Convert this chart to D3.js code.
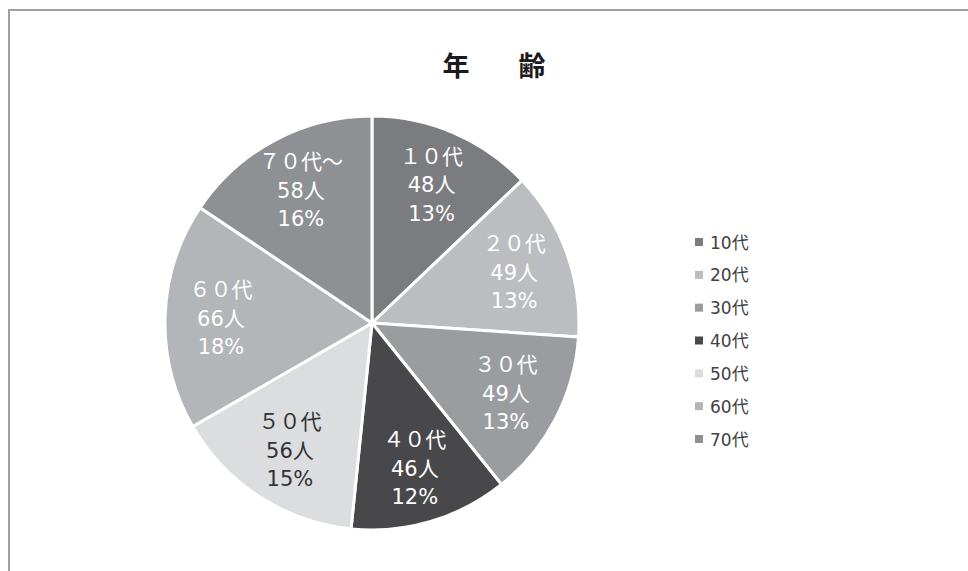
<!DOCTYPE html>
<html>
<head>
<meta charset="utf-8">
<script src="https://cdn.jsdelivr.net/npm/d3@7"></script>
<style>
  html, body { margin: 0; padding: 0; background: #fff; }
  svg { display: block; }
</style>
</head>
<body>
<svg id="chart" width="968" height="571"></svg>
<script>
const title = "年　齢";
const categories = ["10代", "20代", "30代", "40代", "50代", "60代", "70代"];
const sliceNames = ["１０代", "２０代", "３０代", "４０代", "５０代", "６０代", "７０代～"];
const values = [48, 49, 49, 46, 56, 66, 58];
const colors = ["#7b7c80", "#bcbdc1", "#9b9ca0", "#48484b", "#dcdddf", "#b4b5b8", "#8f9094"];
const labelColors = ["#ffffff", "#ffffff", "#ffffff", "#ffffff", "#333333", "#ffffff", "#ffffff"];

const svg = d3.select("#chart");
const W = 968, H = 571;
const font = "'Noto Sans CJK JP', 'Noto Sans', sans-serif";
const numFont = "'DejaVu Sans', 'Noto Sans CJK JP', sans-serif";

// frame
svg.append("rect")
  .attr("x", 9).attr("y", 10)
  .attr("width", W + 20).attr("height", H + 20)
  .attr("fill", "#fff")
  .attr("stroke", "#a0a0a0").attr("stroke-width", 2);

// title
const ls = 11;
svg.append("text")
  .attr("x", 494 + ls / 2).attr("y", 76)
  .attr("text-anchor", "middle")
  .attr("font-family", font)
  .attr("font-size", 27)
  .attr("font-weight", "bold")
  .attr("letter-spacing", ls)
  .attr("fill", "#1a1a1a")
  .text(title);

const cx = 372, cy = 323, R = 207;
const total = d3.sum(values);
const pie = d3.pie().sort(null).value(d => d)(values);
const arc = d3.arc().innerRadius(0).outerRadius(R);
const labelArc = d3.arc().innerRadius(R * 0.73).outerRadius(R * 0.73);

const g = svg.append("g").attr("transform", `translate(${cx},${cy})`);
g.selectAll("path.slice").data(pie).enter().append("path")
  .attr("class", "slice")
  .attr("d", arc)
  .attr("fill", (d, i) => colors[i])
  .attr("stroke", "#fff").attr("stroke-width", 3)
  .attr("stroke-linejoin", "round");

const lineH = 28.5;
const lbl = g.selectAll("text.lbl").data(pie).enter().append("text")
  .attr("class", "lbl")
  .attr("text-anchor", "middle")
  .attr("font-family", numFont)
  .attr("font-size", 21)
  .attr("fill", (d, i) => labelColors[i])
  .attr("transform", d => { const c = labelArc.centroid(d); return `translate(${c[0]},${c[1]})`; });
lbl.each(function(d, i) {
  const t = d3.select(this);
  const lines = [sliceNames[i], values[i] + "人", Math.round(values[i] / total * 100) + "%"];
  lines.forEach((s, k) => {
    t.append("tspan").attr("x", 0).attr("y", (k - 1) * lineH + 8).text(s);
  });
});

// legend
const ly = d3.scalePoint().domain(categories).range([242, 439]);
const leg = svg.append("g");
categories.forEach((c, i) => {
  leg.append("rect")
    .attr("x", 695).attr("y", ly(c) - 4)
    .attr("width", 8).attr("height", 8)
    .attr("fill", colors[i]);
  leg.append("text")
    .attr("x", 710).attr("y", ly(c) + 6.5)
    .attr("font-family", numFont)
    .attr("font-size", 17)
    .attr("fill", "#404040")
    .text(c);
});
</script>
</body>
</html>
